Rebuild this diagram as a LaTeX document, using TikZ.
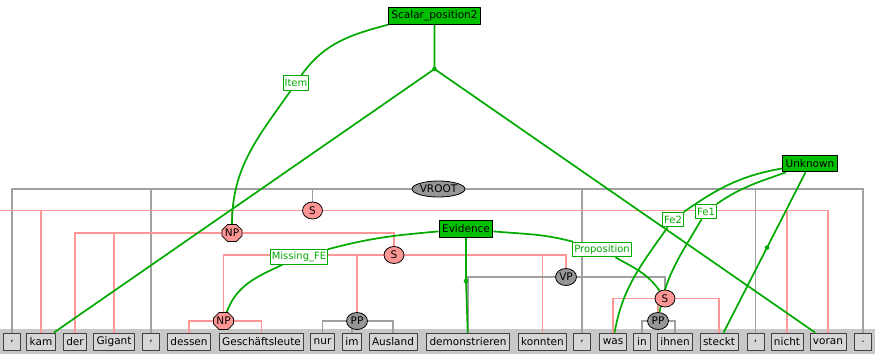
\documentclass[tikz,border=0pt]{standalone}
\usepackage{fontspec}
\setmainfont{DejaVu Sans}
\usetikzlibrary{shapes.geometric,shapes.misc}
\definecolor{treepink}{RGB}{255,150,150}
\definecolor{treegray}{RGB}{160,160,160}
\definecolor{nodegray}{RGB}{150,150,150}
\definecolor{fegreen}{RGB}{0,170,0}
\definecolor{frmgreen}{RGB}{0,192,0}
\definecolor{bandgray}{RGB}{200,200,200}
\definecolor{wordgray}{RGB}{214,214,214}
\pgfdeclarelayer{bg}\pgfdeclarelayer{mid}
\pgfsetlayers{bg,mid,main}

\begin{document}
\begin{tikzpicture}[x=1pt,y=-1pt,line join=round,
  font=\fontsize{10.5}{12}\selectfont,
  word/.style={draw=black!75,fill=wordgray,line width=.8pt,inner xsep=3pt,
    inner ysep=0pt,minimum width=17pt,minimum height=17pt},
  pnode/.style={ellipse,draw,fill=treepink,line width=.8pt,inner sep=0pt,
    minimum width=20pt,minimum height=17pt},
  npnode/.style={chamfered rectangle,chamfered rectangle xsep=2pt,draw,
    fill=treepink,line width=.8pt,inner sep=1pt,minimum width=20pt,minimum height=14pt},
  gnode/.style={ellipse,draw,fill=nodegray,line width=.8pt,inner sep=0pt,
    minimum width=21pt,minimum height=17pt},
  pline/.style={treepink,line width=1.6pt},
  gline/.style={treegray,line width=1.6pt},
  fe/.style={fegreen,line width=1.7pt},
  frm/.style={draw=black,fill=frmgreen,line width=.9pt,inner xsep=3pt,
    inner ysep=0pt,minimum height=16.5pt},
  felab/.style={draw=fegreen,fill=white,text=fegreen,line width=.9pt,
    inner xsep=1.5pt,inner ysep=0pt,minimum height=14.5pt,
    font=\fontsize{10}{12}\selectfont}]
  \useasboundingbox (0,0) rectangle (875,354);
  % sentence
  \foreach \n/\x/\w in {c1/12/{,},kam/41/kam,der/75/der,gigant/114/Gigant,c2/151/{,},
      dessen/189/dessen,gesch/261.5/Geschäftsleute,nur/322.5/nur,im/352/im,
      ausland/393/Ausland,demo/468/demonstrieren,konnten/542.5/konnten,c3/582/{,},
      was/613/was,inw/642/in,ihnen/675/ihnen,steckt/719/steckt,c4/755.5/{,},
      nicht/787/nicht,voran/828/voran,stop/863/.}
    \node[word] (\n) at (\x,341.5) {\w};
  % syntax nodes
  \node[gnode,minimum width=49pt,minimum height=16pt] (vroot) at (438.5,189) {VROOT};
  \node[pnode] (s1) at (312.5,210.5) {S};
  \node[npnode] (np1) at (232,233) {NP};
  \node[pnode] (s2) at (394,255) {S};
  \node[npnode] (np2) at (223.5,321) {NP};
  \node[gnode] (pp1) at (357,321) {PP};
  \node[gnode] (vp) at (566,277) {VP};
  \node[pnode] (s3) at (665,298.5) {S};
  \node[gnode] (pp2) at (658,321) {PP};
  % frames and roles
  \node[frm] (scalar) at (434.5,16) {Scalar\_position2};
  \node[frm] (unknown) at (810,163.5) {Unknown};
  \node[frm] (evidence) at (466,229) {Evidence};
  \node[felab] (item) at (296,83) {Item};
  \node[felab] (missing) at (299,257) {Missing\_FE};
  \node[felab] (prop) at (602,249.5) {Proposition};
  \node[felab] (fe2) at (673,219.5) {Fe2};
  \node[felab] (fe1) at (706,211.5) {Fe1};
  \coordinate (sdot) at (434.5,69);
  \coordinate (edot) at (466,281);
  \coordinate (s1stub) at (0,210.5);
  \begin{pgfonlayer}{bg}
    \fill[bandgray] (0,329) rectangle (875,354);
    \draw[gline] (vroot) -| (c1) (vroot) -| (c2) (vroot) -| (s1)
      (vroot) -| (c3) (vroot) -| (c4) (vroot) -| (stop);
    \draw[pline] (s1) -- (s1stub) (s1) -| (kam) (s1) -| (np1)
      (s1) -| (nicht) (s1) -| (voran);
    \draw[pline] (np1) -| (der) (np1) -| (gigant) (np1) -| (s2);
    \draw[pline] (s2) -| (np2) (s2) -| (pp1) (s2) -| (konnten) (s2) -| (vp);
    \draw[pline] (np2) -| (dessen) (np2) -| (gesch);
    \draw[gline] (pp1) -| (nur) (pp1) -| (im) (pp1) -| (ausland);
    \draw[gline] (vp) -| (demo) (vp) -| (s3);
    \draw[pline] (s3) -| (was) (s3) -| (pp2) (s3) -| (steckt);
    \draw[gline] (pp2) -| (inw) (pp2) -| (ihnen);
  \end{pgfonlayer}
  \begin{pgfonlayer}{mid}
    \draw[fe] (scalar) -- (sdot) (sdot) -- (kam) (sdot) -- (voran);
    \fill[fegreen] (sdot) circle (2.3pt);
    \draw[fe] (scalar.south west) to[out=195,in=55] (item) to[out=235,in=90] (np1);
    \draw[fe] (evidence) to[out=185,in=15] (missing) to[out=205,in=70] (np2);
    \draw[fe] (evidence) to[out=-5,in=165] (prop) to[out=-30,in=125] (s3);
    \draw[fe] (unknown) to[out=190,in=35] (fe2) to[out=235,in=80] (was);
    \draw[fe] (unknown) to[out=200,in=35] (fe1) to[out=240,in=80] (pp2);
    \draw[fe] (unknown) -- coordinate[pos=.47] (udot) (steckt);
    \fill[fegreen] (udot) circle (2.3pt);
    \draw[fe] (evidence) -- (edot) -- (demo);
    \fill[fegreen] (edot) circle (2.3pt);
  \end{pgfonlayer}
\end{tikzpicture}
\end{document}
